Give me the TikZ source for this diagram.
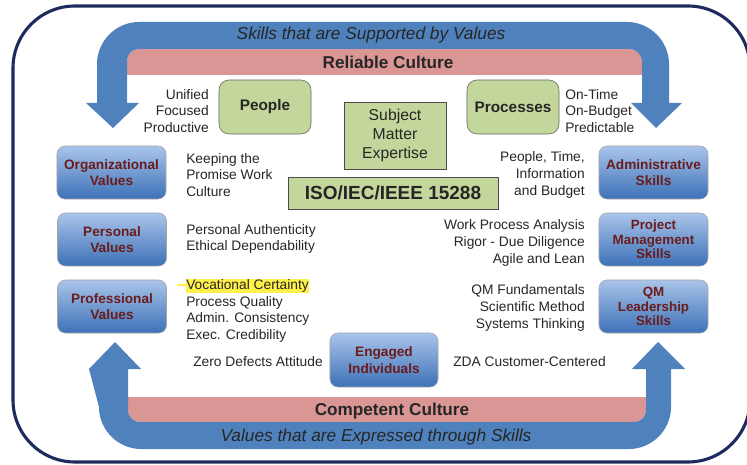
\documentclass[tikz,border=0pt]{standalone}
\usepackage{fontspec}
\setmainfont{Liberation Sans}
\usetikzlibrary{positioning}

\definecolor{flowblue}{HTML}{4F81BD}
\definecolor{culturepink}{HTML}{D99694}
\definecolor{leafgreen}{HTML}{C3D69B}
\definecolor{framenavy}{HTML}{1F2A5E}
\definecolor{valtop}{HTML}{A9C4EA}
\definecolor{valbot}{HTML}{3D71B7}
\definecolor{valtext}{HTML}{6A1C1C}
\definecolor{inktext}{HTML}{262626}
\definecolor{hiyellow}{HTML}{FFF04A}

\begin{document}
\begin{tikzpicture}[x=0.025cm, y=-0.025cm,
    font=\fontsize{9.8}{11.9}\selectfont, text=inktext,
    valbox/.style={draw=gray!70, rounded corners=0.2cm, top color=valtop,
      bottom color=valbot, minimum width=2.725cm, minimum height=1.325cm,
      align=center, text=valtext, inner sep=1pt,
      font=\fontsize{9.7}{11.7}\selectfont\bfseries},
    tightval/.style={valbox, font=\fontsize{9.5}{10.4}\selectfont\bfseries},
    leafbox/.style={draw=gray!80!black, fill=leafgreen, rounded corners=0.25cm,
      minimum width=2.3cm, minimum height=1.35cm, text=black!85,
      font=\fontsize{10.9}{13}\selectfont\bfseries},
    note/.style={align=left, inner sep=0pt},
    noter/.style={align=right, inner sep=0pt},
    banner/.style={font=\fontsize{12.2}{14}\selectfont\bfseries, text=black!85},
    motto/.style={font=\fontsize{12.3}{14}\selectfont\itshape, text=black!85}]

      \useasboundingbox (0,0) rectangle (747,465);

      \draw [framenavy, line width=2.2pt, rounded corners=1.55cm] (13,6) rectangle (750,462);

      \fill [culturepink] (127,75) -- (127,61) .. controls (127,54) and (132,49) .. (139,49)
        -- (630,49) .. controls (635,49) and (642,54) .. (642,61) -- (642,75) -- cycle;
      \fill [flowblue] (86,103) -- (97,103) -- (97,64) .. controls (97,41) and (116,22) .. (139,22)
        -- (627,22) .. controls (650,22) and (669,41) .. (669,64) -- (669,103) -- (682,103)
        -- (656,128) -- (631,103) -- (642,103) -- (642,61) .. controls (642,54) and (635,49) .. (630,49)
        -- (139,49) .. controls (132,49) and (127,54) .. (127,61) -- (127,103) -- (139,103)
        -- (113,128) -- cycle;

      \fill [culturepink] (128,397) -- (646,397) -- (646,410) .. controls (646,417) and (641,422) .. (634,422)
        -- (140,422) .. controls (133,422) and (128,417) .. (128,410) -- cycle;
      \fill [flowblue] (89,369) -- (115,342) -- (141,369) -- (128,369) -- (128,410)
        .. controls (128,417) and (133,422) .. (140,422) -- (634,422)
        .. controls (641,422) and (646,417) .. (646,410) -- (646,369) -- (632,369)
        -- (658,342) -- (685,369) -- (671,369) -- (671,407) .. controls (671,430) and (652,449) .. (629,449)
        -- (141,449) .. controls (118,449) and (99,430) .. (99,407) -- cycle;

      \node [motto] (supported) at (371,35) {Skills that are Supported by Values};
      \node [banner] (reliable) at (388,62) {Reliable Culture};
      \node [banner] (competent) at (392,411) {Competent Culture};
      \node [motto] (expressed) at (376,437) {Values that are Expressed through Skills};

      \node [leafbox] (people) at (265,107) {People};
      \node [leafbox] (processes) at (513,107) {Processes};
      \node [draw=gray!60!black, fill=leafgreen, minimum width=2.55cm, minimum height=1.675cm,
        align=center, font=\fontsize{11.2}{13.6}\selectfont] (expertise) at (395,135.5)
        {Subject\\Matter\\Expertise};
      \node [draw=gray!60!black, fill=leafgreen, minimum width=5.25cm, minimum height=0.8cm,
        font=\fontsize{13.5}{15}\selectfont\bfseries, text=black!85] (iso) at (393,193)
        {ISO/IEC/IEEE 15288};

      \node [valbox] (orgval) at (111.5,172.5) {Organizational\\Values};
      \node [valbox] (persval) at (112,239.5) {Personal\\Values};
      \node [valbox] (profval) at (112,306.5) {Professional\\Values};
      \node [valbox] (adminsk) at (653.5,172.5) {Administrative\\Skills};
      \node [tightval] (projsk) at (653.5,239.5) {Project\\Management\\Skills};
      \node [tightval] (qmsk) at (653.5,306.5) {QM\\Leadership\\Skills};
      \node [valbox, minimum width=2.7cm, minimum height=1.35cm] (engaged) at (384,360) {Engaged\\Individuals};

      \fill [hiyellow] (186,279) rectangle (309,293);
      \draw [hiyellow, line width=1.6pt] (177,285) -- (187,285);

      \node [noter, anchor=east] (unified) at (209,111) {Unified\\Focused\\Productive};
      \node [note, anchor=west] (ontime) at (565,111) {On-Time\\On-Budget\\Predictable};
      \node [note, anchor=west] (keeping) at (186,175) {Keeping the\\Promise Work\\Culture};
      \node [noter, anchor=east] (ptime) at (585,175) {People, Time,\\Information\\and Budget};
      \node [note, anchor=west] (authentic) at (186,239) {Personal Authenticity\\Ethical Dependability};
      \node [noter, anchor=east] (workproc) at (585,243) {Work Process Analysis\\Rigor - Due Diligence\\Agile and Lean};
      \node [note, anchor=west] (vocation) at (186,311) {Vocational Certainty\\Process Quality\\Admin. Consistency\\Exec. Credibility};
      \node [noter, anchor=east] (qmfund) at (585,308) {QM Fundamentals\\Scientific Method\\Systems Thinking};
      \node [noter, anchor=east] (zerodef) at (323,362) {Zero Defects Attitude};
      \node [note, anchor=west] (zda) at (453,362) {ZDA Customer-Centered};
    \end{tikzpicture}
\end{document}
